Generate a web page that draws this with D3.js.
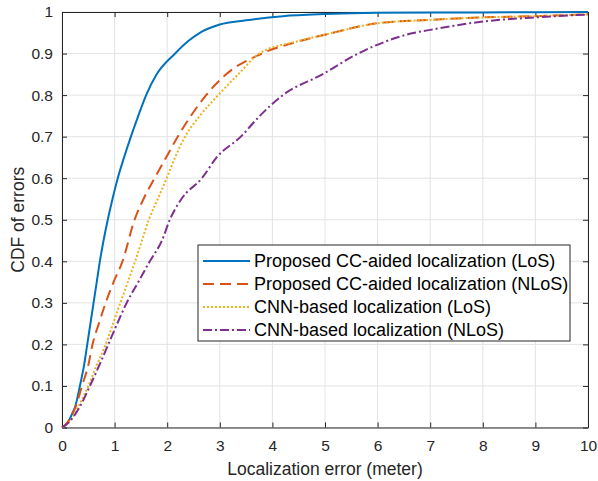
<!DOCTYPE html>
<html>
<head>
<meta charset="utf-8">
<script src="https://cdn.jsdelivr.net/npm/d3@7"></script>
<style>
  body { margin: 0; background: #fff; }
  svg { font-family: "Liberation Sans", Arial, sans-serif; }
  .grid line { stroke: #e3e3e3; stroke-width: 1; }
  .tick text { fill: #262626; font-size: 15.5px; }
</style>
</head>
<body>
<div id="chart"></div>
<script>
// Width, Height and margins
var margin = {top: 12, right: 10, bottom: 53.5, left: 62},
    W = 598, H = 481,
    w = W - margin.left - margin.right,
    h = H - margin.top - margin.bottom;

/***Data***/
var xTicks = [0, 1, 2, 3, 4, 5, 6, 7, 8, 9, 10];
var yTicks = [0, 0.1, 0.2, 0.3, 0.4, 0.5, 0.6, 0.7, 0.8, 0.9, 1];

var seriesNames = [
  "Proposed CC-aided localization (LoS)",
  "Proposed CC-aided localization (NLoS)",
  "CNN-based localization (LoS)",
  "CNN-based localization (NLoS)"
];

var ccLosErr = [0, 0.1, 0.2, 0.25, 0.34, 0.42, 0.48, 0.54, 0.6, 0.66, 0.72, 0.79, 0.87, 0.96, 1.06, 1.18, 1.31, 1.45, 1.6, 1.8, 2.15, 2.4, 2.62, 3.0, 3.5, 4.2, 5, 6, 8, 10];
var ccLosCdf = [0, 0.01, 0.035, 0.05, 0.1, 0.15, 0.2, 0.25, 0.3, 0.35, 0.4, 0.45, 0.5, 0.55, 0.6, 0.65, 0.7, 0.75, 0.8, 0.85, 0.9, 0.93, 0.95, 0.97, 0.98, 0.99, 0.995, 0.998, 0.999, 1];

var ccNlosErr = [0, 0.12, 0.26, 0.38, 0.5, 0.58, 0.7, 0.83, 0.98, 1.15, 1.38, 1.55, 1.76, 1.98, 2.2, 2.45, 2.74, 3.12, 3.8, 4.52, 5.15, 6, 7, 8, 9, 10];
var ccNlosCdf = [0, 0.015, 0.05, 0.1, 0.15, 0.2, 0.25, 0.3, 0.35, 0.4, 0.5, 0.55, 0.6, 0.65, 0.7, 0.75, 0.8, 0.85, 0.9, 0.93, 0.95, 0.973, 0.981, 0.987, 0.99, 0.9945];

var cnnLosErr = [0, 0.15, 0.31, 0.5, 0.66, 0.83, 0.97, 1.11, 1.25, 1.39, 1.52, 1.65, 1.82, 1.99, 2.15, 2.34, 2.62, 2.97, 3.35, 3.75, 4.5, 5.15, 6, 7, 8, 9, 10];
var cnnLosCdf = [0, 0.015, 0.05, 0.1, 0.15, 0.2, 0.25, 0.3, 0.35, 0.4, 0.45, 0.5, 0.55, 0.6, 0.65, 0.7, 0.75, 0.8, 0.85, 0.9, 0.93, 0.95, 0.973, 0.981, 0.987, 0.99, 0.9945];

var cnnNlosErr = [0, 0.15, 0.34, 0.53, 0.71, 0.88, 1.05, 1.23, 1.45, 1.67, 1.9, 2.05, 2.27, 2.66, 2.94, 3.4, 3.76, 4.2, 4.95, 5.63, 6.7, 7, 8, 9, 10];
var cnnNlosCdf = [0, 0.015, 0.05, 0.1, 0.15, 0.2, 0.25, 0.3, 0.35, 0.4, 0.45, 0.5, 0.55, 0.6, 0.65, 0.7, 0.75, 0.8, 0.85, 0.9, 0.95, 0.957, 0.977, 0.987, 0.994];

var colors = ["#0072BD", "#D95319", "#EDB120", "#7E2F8E"];
var dashes = [null, "11,6", "2,2", "9,3,2,3"];

var series = [
  {name: seriesNames[0], x: ccLosErr, y: ccLosCdf},
  {name: seriesNames[1], x: ccNlosErr, y: ccNlosCdf},
  {name: seriesNames[2], x: cnnLosErr, y: cnnLosCdf},
  {name: seriesNames[3], x: cnnNlosErr, y: cnnNlosCdf}
];

/***Draw SVG***/
var root = d3.select("#chart")
            .append("svg")
            .attr("width", W)
            .attr("height", H);
var svg = root.append("g")
            .attr("transform", "translate(" + margin.left + "," + margin.top + ")");

/***Scales***/
var xScale = d3.scaleLinear().domain([0, 10]).range([0, w]);
var yScale = d3.scaleLinear().domain([0, 1]).range([h, 0]);

/***Grid***/
var grid = svg.append("g").attr("class", "grid");
grid.selectAll("line.v")
   .data(xTicks)
   .enter()
   .append("line")
   .attr("class", "v")
   .attr("x1", function(d){ return xScale(d); })
   .attr("x2", function(d){ return xScale(d); })
   .attr("y1", 0)
   .attr("y2", h);
grid.selectAll("line.h")
   .data(yTicks)
   .enter()
   .append("line")
   .attr("class", "h")
   .attr("x1", 0)
   .attr("x2", w)
   .attr("y1", function(d){ return yScale(d); })
   .attr("y2", function(d){ return yScale(d); });

/***Axes***/
var fmt = function(d){ return d3.format("")(+d.toFixed(1)); };
var xAxis = d3.axisBottom(xScale).tickValues(xTicks).tickSizeInner(-5).tickSizeOuter(0).tickPadding(12).tickFormat(fmt);
var yAxis = d3.axisLeft(yScale).tickValues(yTicks).tickSizeInner(-5).tickSizeOuter(0).tickPadding(9).tickFormat(fmt);
var xTop = d3.axisTop(xScale).tickValues(xTicks).tickSizeInner(-5).tickSizeOuter(0).tickFormat("");
var yRight = d3.axisRight(yScale).tickValues(yTicks).tickSizeInner(-5).tickSizeOuter(0).tickFormat("");

svg.append("g").attr("class", "xaxis").attr("transform", "translate(0," + h + ")").call(xAxis);
svg.append("g").attr("class", "yaxis").call(yAxis);
svg.append("g").attr("class", "xtop").call(xTop);
svg.append("g").attr("class", "yright").attr("transform", "translate(" + w + ",0)").call(yRight);

svg.selectAll(".domain").attr("stroke", "#262626").attr("stroke-width", 1);
svg.selectAll(".tick line").attr("stroke", "#262626");
svg.selectAll(".xaxis .tick text").attr("dy", "0.71em");

/***Lines***/
var line = d3.line()
             .curve(d3.curveMonotoneX)
             .x(function(d){ return xScale(d[0]); })
             .y(function(d){ return yScale(d[1]); });

series.forEach(function(s, i) {
  var pts = s.x.map(function(v, k){ return [v, s.y[k]]; });
  svg.append("path")
     .datum(pts)
     .attr("fill", "none")
     .attr("stroke", colors[i])
     .attr("stroke-width", 2)
     .attr("stroke-dasharray", dashes[i])
     .attr("stroke-linejoin", "round")
     .attr("d", line);
});

/***Axis labels***/
root.append("text")
    .attr("x", margin.left + w / 2)
    .attr("y", 475)
    .attr("text-anchor", "middle")
    .attr("fill", "#262626")
    .style("font-size", "17.5px")
    .text("Localization error (meter)");

root.append("text")
    .attr("transform", "translate(24," + (margin.top + h / 2) + ") rotate(-90)")
    .attr("text-anchor", "middle")
    .attr("fill", "#262626")
    .style("font-size", "17.5px")
    .text("CDF of errors");

/***Legend***/
var lg = root.append("g").attr("transform", "translate(198,245)");
lg.append("rect")
  .attr("width", 372)
  .attr("height", 96)
  .attr("fill", "#fff")
  .attr("stroke", "#262626")
  .attr("stroke-width", 1);

var rows = lg.selectAll("g.row")
  .data(series)
  .enter()
  .append("g")
  .attr("transform", function(d, i){ return "translate(0," + (16 + i * 23) + ")"; });

rows.append("line")
  .attr("x1", 5).attr("x2", 52)
  .attr("stroke", function(d, i){ return colors[i]; })
  .attr("stroke-width", 2)
  .attr("stroke-dasharray", function(d, i){ return dashes[i]; });

rows.append("text")
  .attr("x", 56)
  .attr("dy", "0.35em")
  .attr("fill", "#000")
  .style("font-size", "18px")
  .text(function(d){ return d.name; });
</script>
</body>
</html>
